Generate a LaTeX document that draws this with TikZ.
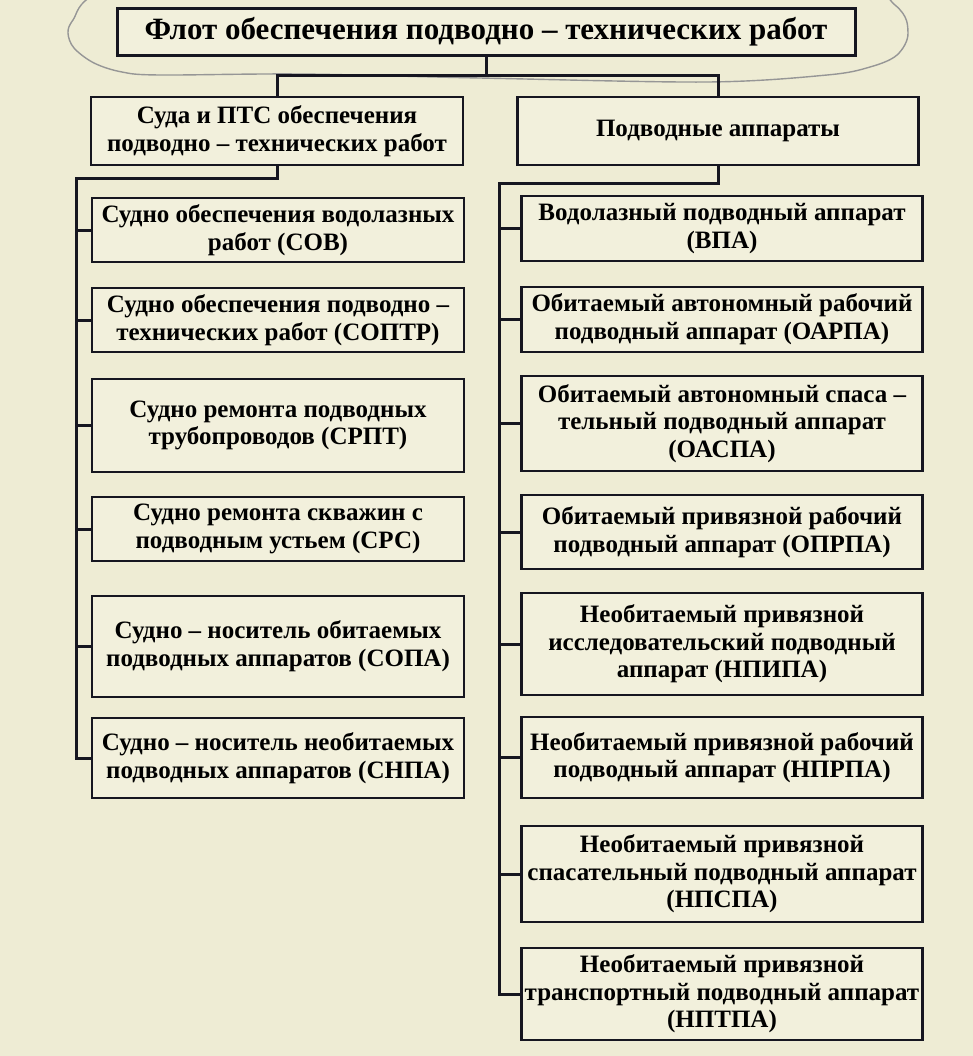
\documentclass[tikz,border=0pt]{standalone}
\usepackage{fontspec}
\setmainfont{Liberation Serif}
\usepackage{tikz}
\usetikzlibrary{positioning, calc}
\definecolor{paper}{RGB}{238,236,212}
\definecolor{boxfill}{RGB}{242,240,220}
\definecolor{ink}{RGB}{22,22,32}
\definecolor{pencil}{RGB}{150,150,150}
\tikzset{
  topbox/.style={rectangle, draw=ink, fill=boxfill, line width=1.5pt,
    minimum width=369pt, minimum height=23.5pt, inner sep=0pt,
    font=\bfseries\fontsize{15.5}{17}\selectfont},
  lbox/.style={rectangle, draw=ink, fill=boxfill, line width=1.4pt,
    minimum width=186pt, inner sep=0pt, align=center,
    font=\bfseries\fontsize{12.5}{13.8}\selectfont},
  rbox/.style={rectangle, draw=ink, fill=boxfill, line width=1.4pt,
    minimum width=200.5pt, inner sep=0pt, align=center,
    font=\bfseries\fontsize{12.5}{13.8}\selectfont},
  link/.style={line width=1.5pt, color=ink},
  cloud/.style={draw=pencil, line width=0.7pt}
}
\begin{document}
\begin{tikzpicture}[x=0.5pt, y=-0.5pt]
  % Page
  \fill[paper] (0,0) rectangle (973,1056);
  \useasboundingbox (0,0) rectangle (973,1056);

  % Pencil outline round the title
  \draw[cloud] plot[smooth cycle, tension=0.55] coordinates {
    (96,-6) (73,20) (68,33) (74,48) (94,63) (122,72) (160,75) (300,74)
    (480,78) (707,82) (827,75) (870,67) (897,55) (908,33) (895,5)
    (820,-40) (488,-60) (200,-40)};

  % Title and the two groups
  \node[topbox] (fleet) at (486,31.5) {Флот обеспечения подводно – технических работ};
  \node[lbox, minimum height=34pt] (ships) at (277,131)
    {Суда и ПТС обеспечения\\подводно – технических работ};
  \node[rbox, minimum height=34pt] (units) at (718,131) {Подводные аппараты};

  % Coordinates of the trunks
  \coordinate (fork) at (486,75);
  \coordinate (lfork) at (76,178);
  \coordinate (rfork) at (499,183);

  % Ships
  \node[lbox, minimum height=32pt] (s1) at (278,230)
    {Судно обеспечения водолазных\\работ (СОВ)};
  \node[lbox, minimum height=32pt] (s2) at (278,320)
    {Судно обеспечения подводно –\\технических работ (СОПТР)};
  \node[lbox, minimum height=46.5pt] (s3) at (278,425.5)
    {Судно ремонта подводных\\трубопроводов (СРПТ)};
  \node[lbox, minimum height=32pt] (s4) at (278,529)
    {Судно ремонта скважин с\\подводным устьем (СРС)};
  \node[lbox, minimum height=50.5pt] (s5) at (278,646.5)
    {Судно – носитель обитаемых\\подводных аппаратов (СОПА)};
  \node[lbox, minimum height=40pt] (s6) at (278,758)
    {Судно – носитель необитаемых\\подводных аппаратов (СНПА)};

  % Vehicles
  \node[rbox, minimum height=32.5pt] (a1) at (722,228.5)
    {Водолазный подводный аппарат\\(ВПА)};
  \node[rbox, minimum height=32.5pt] (a2) at (722,319.5)
    {Обитаемый автономный рабочий\\подводный аппарат (ОАРПА)};
  \node[rbox, minimum height=47.5pt] (a3) at (722,423.5)
    {Обитаемый автономный спаса –\\тельный подводный аппарат\\(ОАСПА)};
  \node[rbox, minimum height=37pt] (a4) at (722,532)
    {Обитаемый привязной рабочий\\подводный аппарат (ОПРПА)};
  \node[rbox, minimum height=51pt] (a5) at (722,644)
    {Необитаемый привязной\\исследовательский подводный\\аппарат (НПИПА)};
  \node[rbox, minimum height=40.5pt] (a6) at (722,757.5)
    {Необитаемый привязной рабочий\\подводный аппарат (НПРПА)};
  \node[rbox, minimum height=48pt] (a7) at (722,874)
    {Необитаемый привязной\\спасательный подводный аппарат\\(НПСПА)};
  \node[rbox, minimum height=46pt] (a8) at (722,994)
    {Необитаемый привязной\\транспортный подводный аппарат\\(НПТПА)};

  % Top level links
  \draw[link] (fleet.south) -- (fork);
  \draw[link] (ships.north) |- (fork) -| (units.north);

  % Left trunk
  \draw[link] (ships.south) |- (lfork) |- (s6.west);
  \foreach \n in {1,...,5}
    \draw[link] (lfork |- s\n.west) -- (s\n.west);

  % Right trunk
  \draw[link] (units.south) |- (rfork) |- (a8.west);
  \foreach \n in {1,...,7}
    \draw[link] (rfork |- a\n.west) -- (a\n.west);
\end{tikzpicture}
\end{document}
